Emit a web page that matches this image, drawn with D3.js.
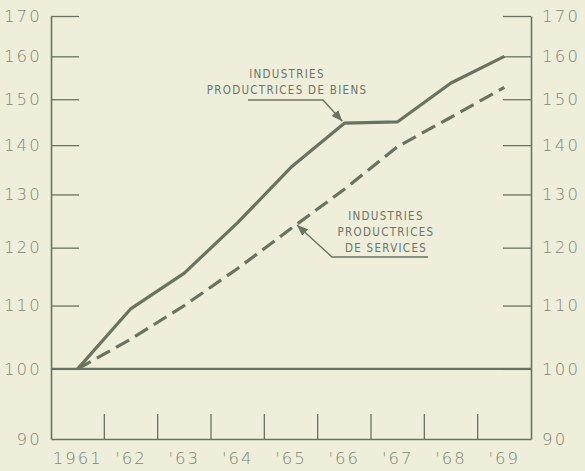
<!DOCTYPE html>
<html><head><meta charset="utf-8">
<script src="https://cdn.jsdelivr.net/npm/d3@7"></script>
<style>
html,body{margin:0;padding:0;background:#eeeedb;}
svg{display:block;}
</style></head>
<body>
<script>
const years = ["1961","'62","'63","'64","'65","'66","'67","'68","'69"];
const goods = [100, 109.5, 115.5, 124.6, 135.4, 144.7, 145, 153.7, 160];
const services = [100, 104.6, 110, 116.3, 123.5, 131, 139.7, 146, 152.7];
const yTicks = [90, 100, 110, 120, 130, 140, 150, 160, 170];
const goodsLabel = ["INDUSTRIES", "PRODUCTRICES DE BIENS"];
const servicesLabel = ["INDUSTRIES", "PRODUCTRICES", "DE SERVICES"];

(function () {
const W = 585, H = 471;
const mLeft = 51, mRight = 531, mTop = 16, mBottom = 439;
const ink = "#6a7361", textCol = "#7f8777";

const svg = d3.select("body").append("svg").attr("width", W).attr("height", H);
svg.append("rect").attr("width", W).attr("height", H).attr("fill", "#eeeedb");

const x = d3.scaleBand().domain(years).range([mLeft, mRight]);
const y = d3.scaleLog().domain([90, 170]).range([mBottom, mTop]);
const cx = d => x(d) + x.bandwidth() / 2;

const tickFont = "'DejaVu Sans', sans-serif";

const gl = svg.append("g").attr("transform", `translate(${mLeft},0)`)
  .call(d3.axisLeft(y).tickValues(yTicks).tickFormat(d3.format("d")).tickSizeInner(-28).tickSizeOuter(0).tickPadding(9));
const gr = svg.append("g").attr("transform", `translate(${mRight},0)`)
  .call(d3.axisRight(y).tickValues(yTicks).tickFormat(d3.format("d")).tickSizeInner(-28).tickSizeOuter(0).tickPadding(11));
[gl, gr].forEach(g => {
  g.select(".domain").attr("stroke", ink).attr("stroke-width", 1.6);
  g.selectAll(".tick line").attr("stroke", ink).attr("stroke-width", 1.3)
    .filter(d => d === 90).remove();
  g.selectAll(".tick text").attr("fill", textCol).attr("font-family", tickFont)
    .attr("font-weight", 200).attr("font-size", 16.5).attr("letter-spacing", 2.2);
});

const gb = svg.append("g").attr("transform", `translate(0,${mBottom})`)
  .call(d3.axisBottom(x).tickSize(0).tickPadding(13));
gb.select(".domain").attr("stroke", ink).attr("stroke-width", 1.6);
gb.selectAll(".tick text").attr("fill", textCol).attr("font-family", tickFont)
  .attr("font-weight", 200).attr("font-size", 16.5).attr("letter-spacing", 2);
svg.append("g").selectAll("line").data(years.slice(1)).join("line")
  .attr("x1", d => x(d)).attr("x2", d => x(d))
  .attr("y1", mBottom).attr("y2", mBottom - 25)
  .attr("stroke", ink).attr("stroke-width", 1.3);

svg.append("line").attr("x1", mLeft).attr("x2", mRight)
  .attr("y1", y(100)).attr("y2", y(100)).attr("stroke", ink).attr("stroke-width", 2.4);

const line = d3.line().x((d, i) => cx(years[i])).y(d => y(d));
svg.append("path").datum(goods).attr("d", line).attr("fill", "none")
  .attr("stroke", ink).attr("stroke-width", 3.2).attr("stroke-linejoin", "round");
svg.append("path").datum(services).attr("d", line).attr("fill", "none")
  .attr("stroke", ink).attr("stroke-width", 3.2).attr("stroke-dasharray", "15,7");

const annFont = "'DejaVu Sans Condensed','DejaVu Sans',sans-serif";
svg.append("defs").append("marker").attr("id", "ah").attr("viewBox", "0 0 10 10")
  .attr("refX", 10).attr("refY", 5).attr("markerWidth", 11).attr("markerHeight", 11)
  .attr("markerUnits", "userSpaceOnUse").attr("orient", "auto")
  .append("path").attr("d", "M0,1 L10,5 L0,9 Z").attr("fill", ink);

const gx = cx("'66"), gy = y(goods[5]);
svg.append("g").selectAll("text").data(goodsLabel).join("text")
  .attr("x", 287).attr("y", (d, i) => 78 + i * 16).attr("text-anchor", "middle")
  .attr("font-family", annFont).attr("font-size", 11.5).attr("letter-spacing", 1.3)
  .attr("fill", "#6e7566").text(d => d);
svg.append("path").attr("d", `M248,100 L323,100 L${gx - 2},${gy - 2}`)
  .attr("fill", "none").attr("stroke", ink).attr("stroke-width", 1.4).attr("marker-end", "url(#ah)");

const sx = 297, sy = y(d3.scaleLinear().domain([cx("'65"), cx("'66")]).range([services[4], services[5]])(sx)) + 1;
svg.append("g").selectAll("text").data(servicesLabel).join("text")
  .attr("x", 386).attr("y", (d, i) => 220 + i * 16).attr("text-anchor", "middle")
  .attr("font-family", annFont).attr("font-size", 11.5).attr("letter-spacing", 1.3)
  .attr("fill", "#6e7566").text(d => d);
svg.append("path").attr("d", `M428,257 L332,257 L${sx},${sy}`)
  .attr("fill", "none").attr("stroke", ink).attr("stroke-width", 1.4).attr("marker-end", "url(#ah)");
})();
</script>
</body></html>
